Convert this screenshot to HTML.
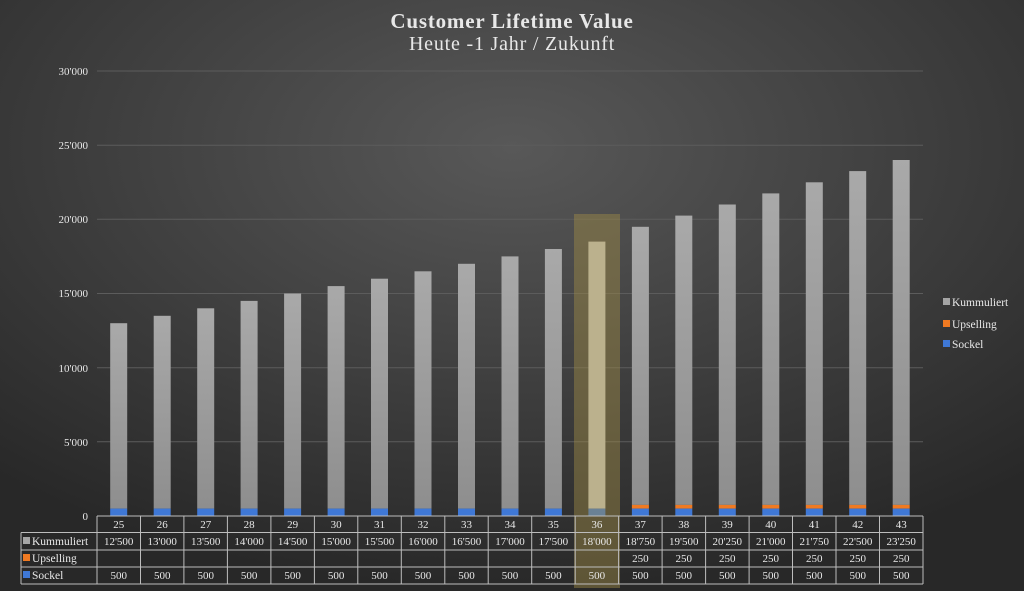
<!DOCTYPE html>
<html><head><meta charset="utf-8"><style>
html,body{margin:0;padding:0;width:1024px;height:591px;overflow:hidden;background:#3a3a3a}
svg{display:block}
text{font-family:"Liberation Serif",serif;fill:#e8e8e8}
</style></head><body>
<svg width="1024" height="591" viewBox="0 0 1024 591" xmlns="http://www.w3.org/2000/svg">
<defs>
<radialGradient id="bg" cx="0.5" cy="0.25" r="0.75">
<stop offset="0" stop-color="#585858"/><stop offset="1" stop-color="#282828"/>
</radialGradient>
<linearGradient id="bar" x1="0" y1="0" x2="0" y2="1">
<stop offset="0" stop-color="#a9a9a9"/><stop offset="1" stop-color="#8e8e8e"/>
</linearGradient>
</defs>
<rect width="1024" height="591" fill="url(#bg)"/>
<text x="512" y="28" text-anchor="middle" font-size="21" font-weight="bold" fill="#fff" style="letter-spacing:0.8px">Customer Lifetime Value</text>
<text x="512" y="50" text-anchor="middle" font-size="20" style="letter-spacing:0.8px">Heute -1 Jahr / Zukunft</text>
<g stroke="#5c5c5c" stroke-width="1">
<line x1="97" x2="923" y1="71" y2="71"/><line x1="97" x2="923" y1="145.2" y2="145.2"/>
<line x1="97" x2="923" y1="219.3" y2="219.3"/><line x1="97" x2="923" y1="293.5" y2="293.5"/>
<line x1="97" x2="923" y1="367.7" y2="367.7"/><line x1="97" x2="923" y1="441.8" y2="441.8"/>
</g>
<g font-size="11" text-anchor="end">
<text x="88" y="75">30'000</text><text x="88" y="149">25'000</text><text x="88" y="223">20'000</text>
<text x="88" y="297">15'000</text><text x="88" y="372">10'000</text><text x="88" y="446">5'000</text><text x="88" y="520">0</text>
</g>
<g fill="url(#bar)">
<rect x="110.2" y="323.2" width="17" height="185.4"/><rect x="153.7" y="315.8" width="17" height="192.8"/>
<rect x="197.2" y="308.3" width="17" height="200.3"/><rect x="240.6" y="300.9" width="17" height="207.7"/>
<rect x="284.1" y="293.5" width="17" height="215.1"/><rect x="327.6" y="286.1" width="17" height="222.5"/>
<rect x="371" y="278.7" width="17" height="229.9"/><rect x="414.5" y="271.3" width="17" height="237.3"/>
<rect x="458" y="263.8" width="17" height="244.8"/><rect x="501.5" y="256.4" width="17" height="252.2"/>
<rect x="544.9" y="249" width="17" height="259.6"/><rect x="588.4" y="241.6" width="17" height="267" fill="#d2cfc6"/>
<rect x="631.9" y="226.8" width="17" height="278.1"/><rect x="675.3" y="215.6" width="17" height="289.3"/>
<rect x="718.8" y="204.5" width="17" height="300.4"/><rect x="762.3" y="193.4" width="17" height="311.5"/>
<rect x="805.8" y="182.3" width="17" height="322.6"/><rect x="849.2" y="171.1" width="17" height="333.8"/>
<rect x="892.7" y="160" width="17" height="344.9"/>
</g>
<g fill="#f07a22">
<rect x="631.9" y="504.9" width="17" height="3.7"/><rect x="675.3" y="504.9" width="17" height="3.7"/>
<rect x="718.8" y="504.9" width="17" height="3.7"/><rect x="762.3" y="504.9" width="17" height="3.7"/>
<rect x="805.8" y="504.9" width="17" height="3.7"/><rect x="849.2" y="504.9" width="17" height="3.7"/>
<rect x="892.7" y="504.9" width="17" height="3.7"/>
</g>
<g fill="#3f78d6">
<rect x="110.2" y="508.6" width="17" height="7.4"/><rect x="153.7" y="508.6" width="17" height="7.4"/>
<rect x="197.2" y="508.6" width="17" height="7.4"/><rect x="240.6" y="508.6" width="17" height="7.4"/>
<rect x="284.1" y="508.6" width="17" height="7.4"/><rect x="327.6" y="508.6" width="17" height="7.4"/>
<rect x="371" y="508.6" width="17" height="7.4"/><rect x="414.5" y="508.6" width="17" height="7.4"/>
<rect x="458" y="508.6" width="17" height="7.4"/><rect x="501.5" y="508.6" width="17" height="7.4"/>
<rect x="544.9" y="508.6" width="17" height="7.4"/><rect x="588.4" y="508.6" width="17" height="7.4"/>
<rect x="631.9" y="508.6" width="17" height="7.4"/><rect x="675.3" y="508.6" width="17" height="7.4"/>
<rect x="718.8" y="508.6" width="17" height="7.4"/><rect x="762.3" y="508.6" width="17" height="7.4"/>
<rect x="805.8" y="508.6" width="17" height="7.4"/><rect x="849.2" y="508.6" width="17" height="7.4"/>
<rect x="892.7" y="508.6" width="17" height="7.4"/>
</g>
<rect x="574" y="214" width="46" height="374" fill="rgba(160,140,70,0.45)"/>
<g stroke="#bdbdbd" stroke-width="1" fill="none">
<line x1="97" x2="923" y1="516" y2="516"/>
<line x1="21" x2="923" y1="532.5" y2="532.5"/>
<line x1="21" x2="923" y1="550" y2="550"/>
<line x1="21" x2="923" y1="567" y2="567"/>
<line x1="21" x2="923" y1="584" y2="584"/>
<line x1="21" x2="21" y1="532.5" y2="584"/>
<line x1="97" x2="97" y1="516" y2="584"/><line x1="140.5" x2="140.5" y1="516" y2="584"/>
<line x1="183.9" x2="183.9" y1="516" y2="584"/><line x1="227.4" x2="227.4" y1="516" y2="584"/>
<line x1="270.9" x2="270.9" y1="516" y2="584"/><line x1="314.4" x2="314.4" y1="516" y2="584"/>
<line x1="357.8" x2="357.8" y1="516" y2="584"/><line x1="401.3" x2="401.3" y1="516" y2="584"/>
<line x1="444.8" x2="444.8" y1="516" y2="584"/><line x1="488.2" x2="488.2" y1="516" y2="584"/>
<line x1="531.7" x2="531.7" y1="516" y2="584"/><line x1="575.2" x2="575.2" y1="516" y2="584"/>
<line x1="618.6" x2="618.6" y1="516" y2="584"/><line x1="662.1" x2="662.1" y1="516" y2="584"/>
<line x1="705.6" x2="705.6" y1="516" y2="584"/><line x1="749.1" x2="749.1" y1="516" y2="584"/>
<line x1="792.5" x2="792.5" y1="516" y2="584"/><line x1="836" x2="836" y1="516" y2="584"/>
<line x1="879.5" x2="879.5" y1="516" y2="584"/><line x1="923" x2="923" y1="516" y2="584"/>
</g>
<rect x="23" y="537" width="7" height="7" fill="#a5a5a5"/>
<rect x="23" y="554" width="7" height="7" fill="#f07a22"/>
<rect x="23" y="571" width="7" height="7" fill="#3f78d6"/>
<g font-size="11.5">
<text x="32" y="545">Kummuliert</text><text x="32" y="562">Upselling</text><text x="32" y="579">Sockel</text>
</g>
<g font-size="11" text-anchor="middle">
<text x="118.7" y="528">25</text><text x="162.2" y="528">26</text><text x="205.7" y="528">27</text><text x="249.1" y="528">28</text><text x="292.6" y="528">29</text><text x="336.1" y="528">30</text><text x="379.5" y="528">31</text><text x="423" y="528">32</text><text x="466.5" y="528">33</text><text x="510" y="528">34</text><text x="553.4" y="528">35</text><text x="596.9" y="528">36</text><text x="640.4" y="528">37</text><text x="683.8" y="528">38</text><text x="727.3" y="528">39</text><text x="770.8" y="528">40</text><text x="814.3" y="528">41</text><text x="857.7" y="528">42</text><text x="901.2" y="528">43</text>
<text x="118.7" y="545">12'500</text><text x="162.2" y="545">13'000</text><text x="205.7" y="545">13'500</text><text x="249.1" y="545">14'000</text><text x="292.6" y="545">14'500</text><text x="336.1" y="545">15'000</text><text x="379.5" y="545">15'500</text><text x="423" y="545">16'000</text><text x="466.5" y="545">16'500</text><text x="510" y="545">17'000</text><text x="553.4" y="545">17'500</text><text x="596.9" y="545">18'000</text><text x="640.4" y="545">18'750</text><text x="683.8" y="545">19'500</text><text x="727.3" y="545">20'250</text><text x="770.8" y="545">21'000</text><text x="814.3" y="545">21'750</text><text x="857.7" y="545">22'500</text><text x="901.2" y="545">23'250</text>
<text x="640.4" y="562">250</text><text x="683.8" y="562">250</text><text x="727.3" y="562">250</text><text x="770.8" y="562">250</text><text x="814.3" y="562">250</text><text x="857.7" y="562">250</text><text x="901.2" y="562">250</text>
<text x="118.7" y="579">500</text><text x="162.2" y="579">500</text><text x="205.7" y="579">500</text><text x="249.1" y="579">500</text><text x="292.6" y="579">500</text><text x="336.1" y="579">500</text><text x="379.5" y="579">500</text><text x="423" y="579">500</text><text x="466.5" y="579">500</text><text x="510" y="579">500</text><text x="553.4" y="579">500</text><text x="596.9" y="579">500</text><text x="640.4" y="579">500</text><text x="683.8" y="579">500</text><text x="727.3" y="579">500</text><text x="770.8" y="579">500</text><text x="814.3" y="579">500</text><text x="857.7" y="579">500</text><text x="901.2" y="579">500</text>
</g>
<rect x="943" y="298" width="7" height="7" fill="#a5a5a5"/>
<rect x="943" y="320" width="7" height="7" fill="#f07a22"/>
<rect x="943" y="340" width="7" height="7" fill="#3f78d6"/>
<g font-size="11.5">
<text x="952" y="306">Kummuliert</text><text x="952" y="328">Upselling</text><text x="952" y="348">Sockel</text>
</g>
</svg>
</body></html>
